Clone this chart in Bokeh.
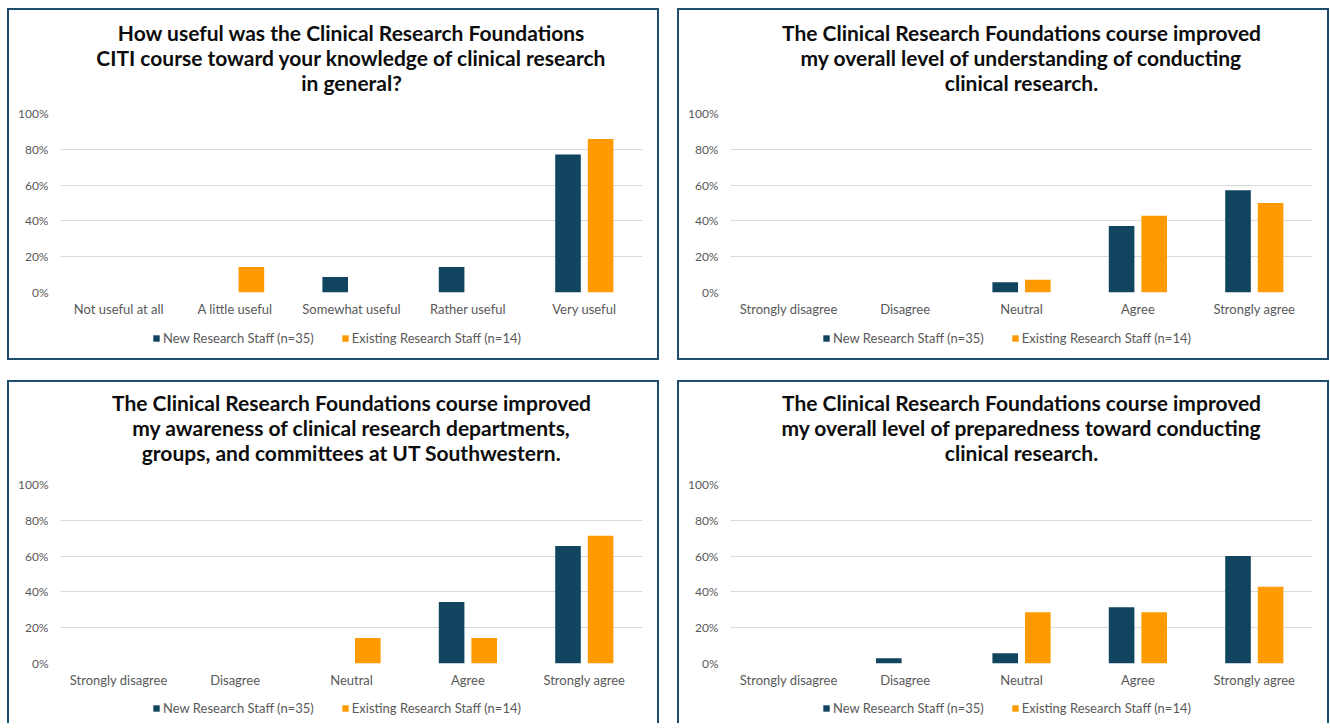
from bokeh.plotting import figure
from bokeh.models import (FactorRange, Range1d, ColumnDataSource, Legend, LegendItem,
                          Title, PrintfTickFormatter, FixedTicker)
from bokeh.transform import dodge
from bokeh.layouts import row, column
from bokeh.embed import file_html
from bokeh.resources import INLINE

# ---------------- data ----------------
series_names = ["New Research Staff (n=35)", "Existing Research Staff (n=14)"]
useful_cats = ["Not useful at all", "A little useful", "Somewhat useful", "Rather useful", "Very useful"]
agree_cats = ["Strongly disagree", "Disagree", "Neutral", "Agree", "Strongly agree"]
y_ticks = [0, 20, 40, 60, 80, 100]

q1_title = ["How useful was the Clinical Research Foundations",
            "CITI course toward your knowledge of clinical research",
            "in general?"]
q1_new = [0, 0, 8.6, 14.3, 77.1]
q1_existing = [0, 14.3, 0, 0, 85.7]

q2_title = ["The Clinical Research Foundations course improved",
            "my overall level of understanding of conducting",
            "clinical research."]
q2_new = [0, 0, 5.7, 37.1, 57.1]
q2_existing = [0, 0, 7.1, 42.9, 50.0]

q3_title = ["The Clinical Research Foundations course improved",
            "my awareness of clinical research departments,",
            "groups, and committees at UT Southwestern."]
q3_new = [0, 0, 0, 34.3, 65.7]
q3_existing = [0, 0, 14.3, 14.3, 71.4]

q4_title = ["The Clinical Research Foundations course improved",
            "my overall level of preparedness toward conducting",
            "clinical research."]
q4_new = [0, 2.9, 5.7, 31.4, 60.0]
q4_existing = [0, 0, 28.6, 28.6, 42.9]

# ---------------- style ----------------
NAVY = "#11455F"
ORANGE = "#FF9A00"
GRAY = "#595959"
GRID = "#D9D9D9"
BORDER = "#1E4D6B"
FONT = "Lato"


def add_bars(fig, src, visible=True):
    r_new = fig.vbar(x=dodge("cat", -0.14, range=fig.x_range), top="new", width=0.22,
                     source=src, fill_color=NAVY, line_color=None, visible=visible)
    r_old = fig.vbar(x=dodge("cat", 0.14, range=fig.x_range), top="old", width=0.22,
                     source=src, fill_color=ORANGE, line_color=None, visible=visible)
    return r_new, r_old


def make_panel(title_lines, cats, new_vals, old_vals, top_border, title_gap,
               legend_height, legend_y, open_bottom):
    src = ColumnDataSource(dict(cat=cats, new=new_vals, old=old_vals))
    xr = FactorRange(factors=cats, range_padding=0)
    p = figure(x_range=xr, y_range=Range1d(0, 100),
               frame_width=582, frame_height=179, output_backend="svg", toolbar_location=None,
               title=None, min_border_left=53, min_border_right=17,
               min_border_top=top_border, min_border_bottom=30)
    p.outline_line_color = None
    p.border_fill_color = None
    p.background_fill_color = None

    add_bars(p, src)

    # spacing between the plot and the title block
    p.add_layout(Title(text=" ", text_font_size="1px", standoff=title_gap), "above")
    # one Title per line; the last line is added first so it sits next to the plot
    for line in reversed(title_lines):
        p.add_layout(Title(text=line, align="center", offset=-18, text_font=FONT,
                           text_font_size="21px", text_font_style="bold",
                           text_color="#0D0D0D", standoff=-2), "above")

    p.xgrid.grid_line_color = None
    p.ygrid.grid_line_color = GRID
    p.yaxis.ticker = FixedTicker(ticks=y_ticks)
    p.yaxis.formatter = PrintfTickFormatter(format="%d%%")
    for ax in (p.xaxis, p.yaxis):
        ax.axis_line_color = None
        ax.major_tick_line_color = None
        ax.minor_tick_line_color = None
        ax.major_tick_out = 0
        ax.major_tick_in = 0
        ax.major_label_text_color = GRAY
        ax.major_label_text_font = FONT
    p.yaxis.major_label_text_font_size = "12px"
    p.xaxis.major_label_text_font_size = "13px"
    p.yaxis.major_label_standoff = 12
    p.xaxis.major_label_standoff = 8

    # legend strip under the chart; its swatches come from hidden copies of the bar series
    lg = figure(x_range=xr, y_range=Range1d(0, 100), width=652, height=legend_height,
                min_border=0, x_axis_type=None, y_axis_type=None, toolbar_location=None,
                output_backend="svg", title=None)
    lg.outline_line_color = None
    lg.border_fill_color = None
    lg.background_fill_color = None
    lg.xgrid.visible = False
    lg.ygrid.visible = False
    swatches = add_bars(lg, src, visible=False)
    legend = Legend(items=[LegendItem(label=n, renderers=[r])
                           for n, r in zip(series_names, swatches)],
                    orientation="horizontal", location=(92, legend_y),
                    border_line_color=None, background_fill_color=None,
                    inactive_fill_alpha=0,
                    label_text_font=FONT, label_text_font_size="13px",
                    label_text_color=GRAY, glyph_width=8, glyph_height=8,
                    label_standoff=3, spacing=27, padding=0, margin=0)
    lg.add_layout(legend)

    styles = {"outline": f"2px solid {BORDER}", "outline-offset": "-2px"}
    if open_bottom:
        styles["clip-path"] = "inset(0px 0px 3px 0px)"
    return column(p, lg, spacing=0, styles=styles)


p1 = make_panel(q1_title, useful_cats, q1_new, q1_existing, 105, 17, 38, 14, False)
p2 = make_panel(q2_title, agree_cats, q2_new, q2_existing, 105, 17, 38, 14, False)
p3 = make_panel(q3_title, agree_cats, q3_new, q3_existing, 104, 18, 33, 10, True)
p4 = make_panel(q4_title, agree_cats, q4_new, q4_existing, 104, 18, 33, 10, True)

layout = column(row(p1, p2, spacing=18), row(p3, p4, spacing=18), spacing=20,
                margin=(8, 0, 0, 7))

open("out.html", "w").write(file_html(layout, INLINE))
